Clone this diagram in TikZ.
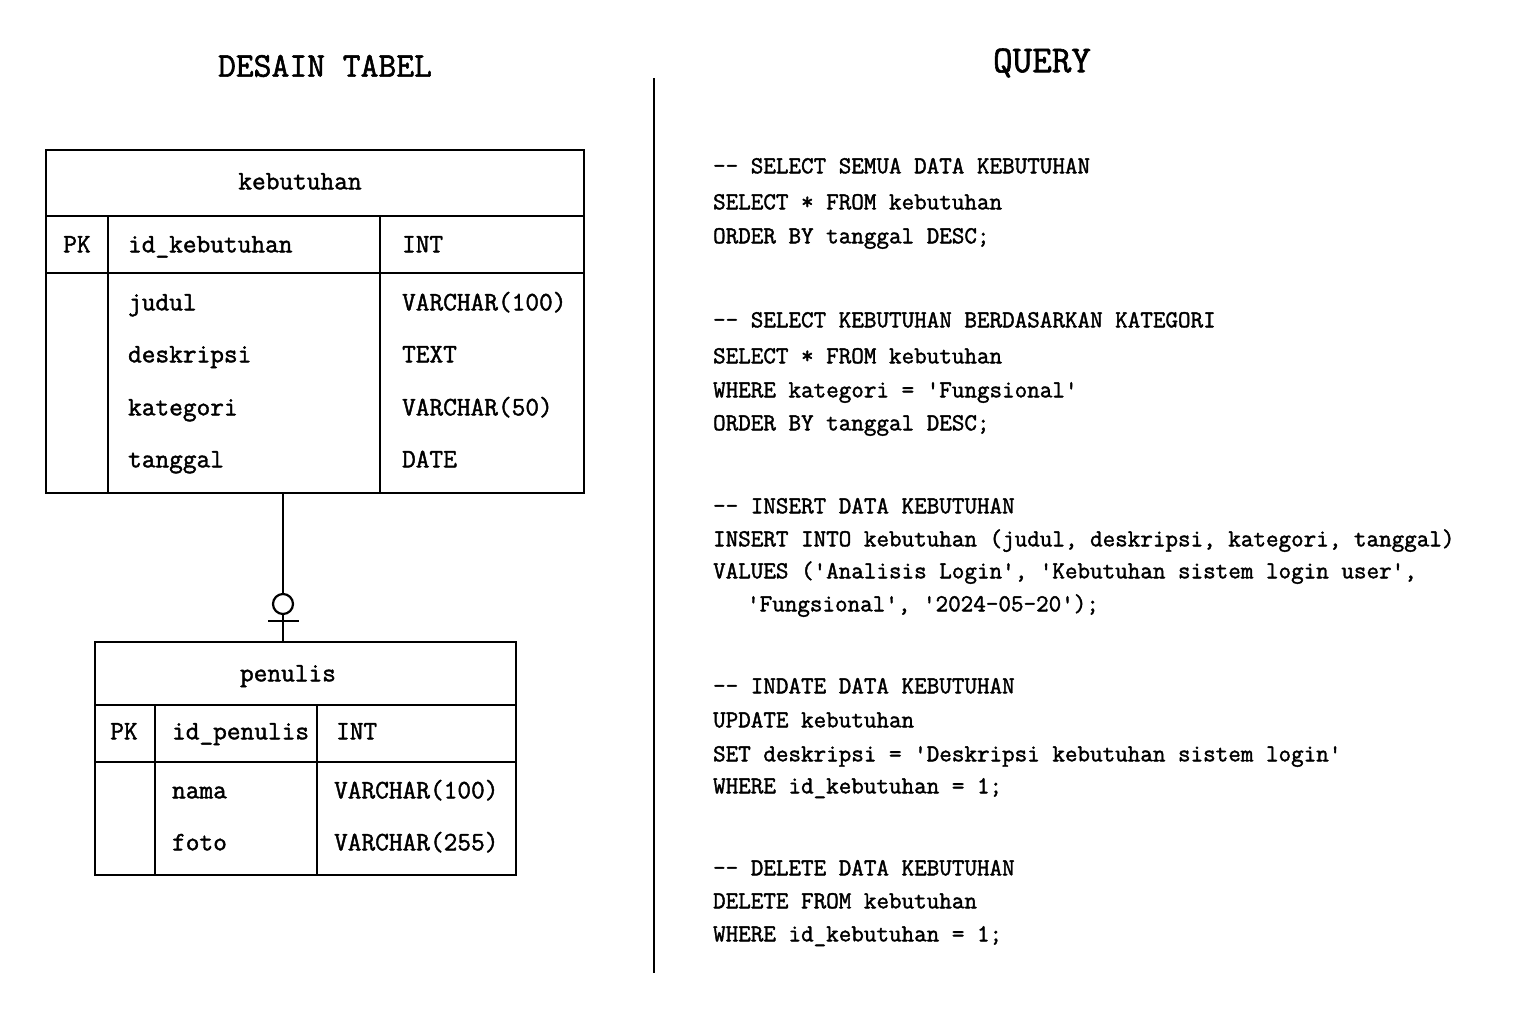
\documentclass[tikz,border=0pt]{standalone}
\usepackage{fontspec}
\setmainfont{Latin Modern Mono}[Ligatures=TeXOff,FakeBold=1.6]
\begin{document}
\begin{tikzpicture}[x=0.5pt,y=-0.5pt,line width=1.1pt,
  title/.style={font=\fontsize{17.3pt}{20pt}\selectfont,anchor=center,inner sep=0},
  qtitle/.style={font=\fontsize{19pt}{21pt}\selectfont,anchor=center,inner sep=0},
  tcell/.style={font=\fontsize{13.3pt}{15pt}\selectfont,anchor=mid west,inner sep=0,yshift=-1pt},
  thead/.style={font=\fontsize{13.3pt}{15pt}\selectfont,anchor=mid,inner sep=0,yshift=-1pt},
  code/.style={font=\fontsize{12.2pt}{14pt}\selectfont,anchor=mid west,inner sep=0,yshift=-1pt},
  tbox/.style={draw,anchor=north west,inner sep=0}]
\useasboundingbox (0,0) rectangle (1536,1024);
\fill[white] (0,0) rectangle (1536,1024);

% titles
\node[title] (t1) at (325,66) {DESAIN TABEL};
\node[qtitle] (t2) at (1042,63) {QUERY};

% divider
\coordinate (d1) at (654,78);
\coordinate (d2) at (654,973);
\draw (d1) -- (d2);

% table kebutuhan
\node[tbox,minimum width=269pt,minimum height=171.5pt] (kb) at (45,149) {};
\draw (45,216) -- (583,216);
\draw (45,273) -- (583,273);
\draw (108,216) -- (108,492);
\draw (380,216) -- (380,492);
\node[thead] (kbh) at (300,183) {kebutuhan};
\node[thead] (kbpk) at (77,246) {PK};
\node[tcell] (kb1) at (127,246) {id\_kebutuhan};
\node[tcell] (kb1t) at (401,246) {INT};
\node[tcell] (kb2) at (127,304) {judul};
\node[tcell] (kb2t) at (401,304) {VARCHAR(100)};
\node[tcell] (kb3) at (127,356) {deskripsi};
\node[tcell] (kb3t) at (401,356) {TEXT};
\node[tcell] (kb4) at (127,409) {kategori};
\node[tcell] (kb4t) at (401,409) {VARCHAR(50)};
\node[tcell] (kb5) at (127,461) {tanggal};
\node[tcell] (kb5t) at (401,461) {DATE};

% table penulis
\node[tbox,minimum width=210.5pt,minimum height=116.5pt] (pn) at (94,641) {};
\draw (94,705) -- (515,705);
\draw (94,762) -- (515,762);
\draw (155,705) -- (155,874);
\draw (317,705) -- (317,874);
\node[thead] (pnh) at (288,675) {penulis};
\node[thead] (pnpk) at (124,733) {PK};
\node[tcell] (pn1) at (171,733) {id\_penulis};
\node[tcell] (pn1t) at (335,733) {INT};
\node[tcell] (pn2) at (171,792) {nama};
\node[tcell] (pn2t) at (333,792) {VARCHAR(100)};
\node[tcell] (pn3) at (171,844) {foto};
\node[tcell] (pn3t) at (333,844) {VARCHAR(255)};

% relationship
\coordinate (rx) at (283,0);
\node[draw,circle,minimum size=10pt,inner sep=0,line width=1.1pt] (o1) at (283,604) {};
\draw (kb.south -| rx) -- (o1.north);
\draw (o1.south) -- (pn.north -| rx);
\coordinate (b1) at (268,621);
\coordinate (b2) at (299,621);
\draw (b1) -- (b2);

% queries
\node[code] (q1) at (712,167) {-- SELECT SEMUA DATA KEBUTUHAN};
\node[code] (q2) at (712,203) {SELECT * FROM kebutuhan};
\node[code] (q3) at (712,237) {ORDER BY tanggal DESC;};
\node[code] (q4) at (712,321) {-- SELECT KEBUTUHAN BERDASARKAN KATEGORI};
\node[code] (q5) at (712,357) {SELECT * FROM kebutuhan};
\node[code] (q6) at (712,391) {WHERE kategori = 'Fungsional'};
\node[code] (q7) at (712,424) {ORDER BY tanggal DESC;};
\node[code] (q8) at (712,507) {-- INSERT DATA KEBUTUHAN};
\node[code] (q9) at (712,540) {INSERT INTO kebutuhan (judul, deskripsi, kategori, tanggal)};
\node[code] (q10) at (712,572) {VALUES ('Analisis Login', 'Kebutuhan sistem login user',};
\node[code] (q11) at (746,605) {'Fungsional', '2024-05-20');};
\node[code] (q12) at (712,687) {-- INDATE DATA KEBUTUHAN};
\node[code] (q13) at (712,721) {UPDATE kebutuhan};
\node[code] (q14) at (712,755) {SET deskripsi = 'Deskripsi kebutuhan sistem login'};
\node[code] (q15) at (712,787) {WHERE id\_kebutuhan = 1;};
\node[code] (q16) at (712,869) {-- DELETE DATA KEBUTUHAN};
\node[code] (q17) at (712,902) {DELETE FROM kebutuhan};
\node[code] (q18) at (712,935) {WHERE id\_kebutuhan = 1;};
\end{tikzpicture}
\end{document}
